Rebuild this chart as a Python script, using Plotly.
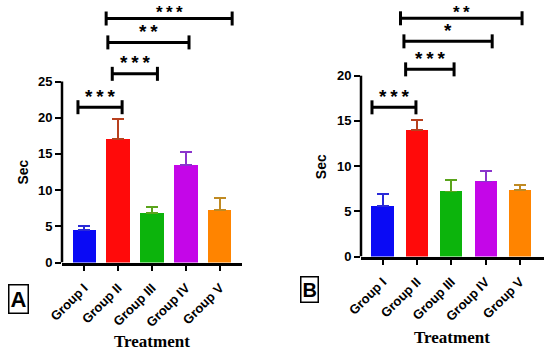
import plotly.graph_objects as go

W, H = 550, 354

groups = ["Group I", "Group II", "Group III", "Group IV", "Group V"]
vals_A = [4.5, 17.1, 6.8, 13.5, 7.3]
err_A = [0.5, 2.7, 0.9, 1.8, 1.6]
vals_B = [5.6, 14.0, 7.2, 8.3, 7.4]
err_B = [1.3, 1.1, 1.3, 1.2, 0.5]
yticks_A = [0, 5, 10, 15, 20, 25]
yticks_B = [0, 5, 10, 15, 20]

bar_colors = ["#0a0af5", "#ff0a0a", "#0cb40c", "#c406e8", "#ff8400"]
err_colors = ["#2a2ad8", "#b8401e", "#5aa41c", "#8a34cc", "#c08a22"]

TS = "\u2009"
# significance brackets: (x start, x end, height in Sec, label)
brackets_A = [(-0.18, 1.12, 21.45, TS.join("***")), (0.83, 2.16, 26.06, TS.join("***")),
              (0.70, 3.09, 30.4, TS.join("**")), (0.65, 4.36, 33.7, TS.join("***"))]
brackets_B = [(-0.31, 0.97, 16.5, TS.join("***")), (0.67, 2.08, 20.7, TS.join("***")),
              (0.62, 3.19, 23.8, "*"), (0.52, 4.06, 26.35, TS.join("**"))]

# layout geometry (pixels)
A_x0, A_x1, A_y0, A_pxu = 62, 242, 262.5, 7.24
B_x0, B_x1, B_y0, B_pxu = 361, 543.7, 256.5, 9.04

fig = go.Figure()
FONT = "Liberation Sans, Arial, sans-serif"


def add_panel(vals, errs, xa, ya, width):
    for i, g in enumerate(groups):
        fig.add_trace(go.Bar(
            x=[i], y=[vals[i]], width=width, name=g, showlegend=False,
            marker=dict(color=bar_colors[i], line=dict(width=0)),
            error_y=dict(type="data", array=[errs[i]], arrayminus=[0], symmetric=False,
                         color=err_colors[i], thickness=1.8, width=6),
            xaxis=xa, yaxis=ya))


def add_brackets(brs, xa, ya, pxu):
    cap = 7.0 / pxu
    for k, (x0, x1, y, lab) in enumerate(brs):
        fig.add_trace(go.Scatter(
            x=[x0, x0, None, x0, x1, None, x1, x1],
            y=[y - cap, y + cap, None, y, y, None, y - cap, y + cap],
            mode="lines", line=dict(color="black", width=3), showlegend=False,
            hoverinfo="skip", xaxis=xa, yaxis=ya, cliponaxis=False))
        top = k == len(brs) - 1
        fig.add_annotation(x=(x0 + x1) / 2, y=y, xref=xa, yref=ya, text=lab,
                           showarrow=False, yanchor="middle", yshift=6 if top else 11,
                           font=dict(family=FONT, size=17 if top else 19, color="black",
                                     weight="bold"))


add_panel(vals_A, err_A, "x", "y", 0.68)
add_panel(vals_B, err_B, "x2", "y2", 0.65)
add_brackets(brackets_A, "x", "y", A_pxu)
add_brackets(brackets_B, "x2", "y2", B_pxu)

tickfont = dict(family=FONT, size=13, color="black", weight="bold")
xtickfont = dict(family=FONT, size=13, color="black", weight="bold")

common_x = dict(showline=True, linecolor="black", linewidth=2.5, ticks="outside",
                ticklen=6, tickwidth=2, tickcolor="black", tickangle=-45,
                ticklabelstandoff=4,
                tickvals=list(range(len(groups))), ticktext=groups, tickfont=xtickfont,
                showgrid=False, zeroline=False, automargin=False, fixedrange=True)
common_y = dict(showline=False, ticks="outside", ticklen=6, tickwidth=2, tickcolor="black",
                tickfont=tickfont, showgrid=False, zeroline=False, automargin=False)

fig.update_layout(
    width=W, height=H, margin=dict(l=0, r=0, t=0, b=0),
    paper_bgcolor="white", plot_bgcolor="white", bargap=0,
    xaxis=dict(domain=[A_x0 / W, A_x1 / W], range=[-0.65, 4.65], anchor="y", **common_x),
    yaxis=dict(domain=[1 - A_y0 / H, 1], range=[0, A_y0 / A_pxu], tickvals=yticks_A,
               anchor="x", **common_y),
    xaxis2=dict(domain=[B_x0 / W, B_x1 / W], range=[-0.63, 4.69], anchor="y2", **common_x),
    yaxis2=dict(domain=[1 - B_y0 / H, 1], range=[0, B_y0 / B_pxu], tickvals=yticks_B,
                anchor="x2", **common_y),
)

# y axis lines only up to the top tick
fig.add_shape(type="line", xref="x domain", yref="y", x0=0, x1=0, y0=0, y1=yticks_A[-1],
              line=dict(color="black", width=2.5))
fig.add_shape(type="line", xref="x2 domain", yref="y2", x0=0, x1=0, y0=0, y1=yticks_B[-1],
              line=dict(color="black", width=2.5))

# axis titles
def ann(text, x, y, size, family, angle=0, **kw):
    fig.add_annotation(text=text, x=x / W, y=1 - y / H, xref="paper", yref="paper",
                       showarrow=False, textangle=angle, xanchor="center", yanchor="middle",
                       font=dict(family=family, size=size, color="black", weight="bold"), **kw)

ann("Sec", 22.5, 172, 14, FONT, angle=-90)
ann("Sec", 320.5, 166.7, 14, FONT, angle=-90)
ann("Treatment", 152, 341, 17, "Liberation Serif, Times New Roman, serif")
ann("Treatment", 452, 337, 17, "Liberation Serif, Times New Roman, serif")
ann("A", 18.8, 299, 22, FONT, bordercolor="black", borderwidth=1.5, borderpad=1)
ann("B", 309, 289.5, 20, FONT, bordercolor="black", borderwidth=1.5, borderpad=1)

fig.write_html("out.html", config={"displayModeBar": False},
               post_script="document.body.style.margin='0';document.body.style.overflow='hidden';")
